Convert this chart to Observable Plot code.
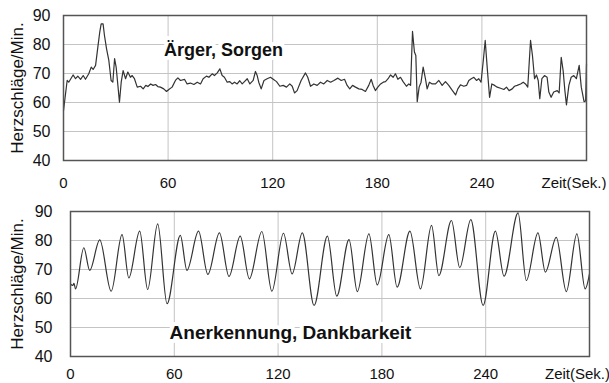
<!DOCTYPE html>
<html>
<head>
<meta charset="utf-8">
<script src="https://cdn.jsdelivr.net/npm/d3@7"></script>
<script src="https://cdn.jsdelivr.net/npm/@observablehq/plot@0.6"></script>
<style>
  html, body { margin: 0; padding: 0; background: white; }
  #chart svg { display: block; }
</style>
</head>
<body>
<div id="chart"></div>
<script>
// Panel titles and axis texts
const titleTop = "Ärger, Sorgen";
const titleBottom = "Anerkennung, Dankbarkeit";
const yLabel = "Herzschläge/Min.";
const xEndLabel = "Zeit(Sek.)";
const xTicks = [0, 60, 120, 180, 240];
const yTicks = [40, 50, 60, 70, 80, 90];

// Top panel: heart rate (anger, worries)
const topT = [0,2.1,3,4.2,5.5,6.9,8.2,9.8,11.3,12.6,14.5,15.9,17,18.4,19.7,20.8,21.6,22.7,23.5,24.7,26,27.3,28.3,29.3,30.2,31.2,32.1,33.1,34.2,35.6,36.9,38.4,39.4,40.7,42.3,44.2,45.7,47.2,48.4,50,51.4,52.8,54.1,55.6,57.5,59.1,60.4,62.3,64.2,65.6,67.1,69.4,70.9,72.8,74.8,76.7,78.6,80.1,82,83.4,85.3,86.6,88.2,89.7,91,92.3,93.9,95.4,96.7,98.1,99.6,101.1,102.5,103.8,105.4,106.9,108.8,110.1,111.1,112,113.4,115,116.8,118.7,120.3,122.2,124.1,126,127.9,129.8,131.2,132.5,134,136.3,138.8,140.1,141.7,143.6,145.5,147.4,149.3,151.3,153.2,155.1,157.4,159.3,161.2,162.7,164.2,165.8,167.5,169.4,171.3,173.2,175.1,176.5,177.6,178.9,180.3,181.9,183.4,184.7,186.2,187.6,189.1,190.4,191.8,193.3,194.8,196.7,198.1,199.1,200.2,201.3,202.1,202.9,204,205.1,206.3,207.6,208.6,209.9,211.5,213.4,215.3,217.2,219.1,221,222.6,224.9,226.2,227.7,229.6,231.2,232.5,233.9,235.4,236.9,238.2,239.5,240.7,241.9,243.1,244.4,245.7,247.3,248.8,250.7,252.6,254.1,255.6,257.4,258.7,260.2,262.2,263.7,265,266.3,267.9,269,270.2,271.3,272.3,273.2,274.4,275.9,277.4,278.4,279.7,281.2,283.2,284.3,285.5,286.6,287.6,288.5,289.9,291.2,292.7,294.2,295.8,297,298.6,299.5,300];
const topV = [57.2,67.6,67,68.2,69.5,68.2,69.1,68,69.3,68,69.9,72.2,71.4,72.8,79.1,84.3,87.1,87.1,83.1,78.5,74.5,67.6,67,75.1,72.2,65.9,60.1,67,71,68.2,70.5,68.7,69.3,68.2,65.3,65.6,64.7,65.9,65.5,66.4,65.9,66.2,65.5,65.3,64.7,63.8,64.5,65.3,67.6,68.5,67.6,68,66.4,66.7,66.2,67,66.4,68.2,69.1,68.7,69.9,69.3,70.2,71.6,69.3,68.7,67,67.2,66.4,67,66.4,67.5,66.4,67.2,68.2,66.4,67.6,70.7,69.3,67,64.7,67.6,68.2,68.7,68,67.2,65.6,65.9,65.3,66.4,65.6,63.3,64.1,67.6,70.2,68.7,65.6,66.4,65.9,67,66.4,67.6,67,67.6,68.4,67.6,68,65.9,64.7,65.9,65.3,64.7,64.5,63.8,65.9,68,65.9,64.1,65.3,66.4,67,67.2,68.2,69.5,68.7,69.9,68,68.7,67.2,65.6,66.4,65.9,84.5,77.4,76.2,60.3,65.3,67,72.2,68.2,64.7,67,66.4,66.4,67.6,65.9,67.2,65.9,64.5,62.6,64.7,66.1,65.6,65.9,67.6,68.2,68.7,67.6,68.2,67,73.9,81.4,71.6,61.8,66.4,65.9,65.3,64.9,64.5,65.3,64.1,64.7,65.6,65.9,66.4,67,66.4,65.3,81.4,76.2,68.2,69.5,67.6,61.3,68.2,69.3,68.7,63.6,61.8,63.6,64.1,63.3,75.6,71,64.1,59.2,65.9,68.7,69.3,68.2,72.8,65.3,60.3,60.5,73.4];

// Bottom panel: heart rate (appreciation, gratitude) - turning points
const botT = [0,1.3,2,2.9,7.7,11.1,16.9,23.5,29.8,33.7,40,44.6,50.4,55.8,63.5,67.3,74,79.4,86.1,91.6,98.1,103.4,110.6,116.4,123.1,128.1,134,140.8,148.5,153.9,161,165.8,172.5,177.3,184,188.8,196.2,202.3,208.7,212.9,220.2,225,231.4,238.5,245.6,250.6,258.7,263.5,270.2,274.5,280.8,286.6,292.7,297.5,300];
const botV = [65,64.5,65.2,63.3,77.5,69.7,80.2,62.5,82,67.1,83.2,63.1,85.7,58.2,81.8,69.7,83.2,68.3,82.6,67.6,81.5,66.8,83.1,62.5,82.5,68.5,82.6,57.6,81.5,60.8,80.3,62.4,82.3,64.7,82,63.9,83.2,63.3,85.2,67.9,86.9,70.6,87.2,57.6,83.2,67.7,89.5,66.2,82.6,69.1,81.1,62.4,82.3,63.3,68.5];

const topData = topT.map((t, i) => ({t, v: topV[i]}));
const botData = botT.map((t, i) => ({t, v: botV[i]}));

const font = "'Liberation Sans', Arial, sans-serif";

function panel({data, curve, title, height, mt, mb, ml, mr, yPad, xPad, labelOffset, labelDy, titleDx, titleDy, titleSize, zeitDx}) {
  return Plot.plot({
    width: 609,
    height,
    marginTop: mt,
    marginBottom: mb,
    marginLeft: ml,
    marginRight: mr,
    style: {fontFamily: font, background: "white", color: "#111"},
    x: {domain: [0, 300]},
    y: {domain: [40, 90]},
    marks: [
      Plot.gridX({ticks: [60, 120, 180, 240], stroke: "#c4c4c4", strokeOpacity: 1, strokeWidth: 1}),
      Plot.gridY({ticks: [50, 60, 70, 80], stroke: "#c4c4c4", strokeOpacity: 1, strokeWidth: 1}),
      Plot.axisY({ticks: yTicks, tickSize: 0, tickPadding: yPad, fontSize: 16, label: null, fill: "#111"}),
      Plot.axisY({ticks: [], tickSize: 0, label: yLabel, labelAnchor: "center", labelArrow: "none", labelOffset, fontSize: 17, fill: "#111", dy: labelDy}),
      Plot.axisX({ticks: xTicks, tickSize: 0, tickPadding: xPad, fontSize: 15, label: null, fill: "#111"}),
      Plot.axisX({ticks: [300], tickFormat: () => xEndLabel, tickSize: 0, tickPadding: xPad, fontSize: 15, label: null, dx: zeitDx, fill: "#111"}),
      Plot.text([title], {text: d => d, frameAnchor: "top-left", dx: titleDx, dy: titleDy, textAnchor: "middle", fontWeight: "bold", fontSize: titleSize, fill: "#111", stroke: "white", strokeWidth: 8}),
      Plot.line(data, {x: "t", y: "v", curve, stroke: "#333", strokeWidth: 1.2}),
      Plot.frame({stroke: "#555", strokeWidth: 1.5})
    ]
  });
}

const topPanel = panel({data: topData, curve: "linear", title: titleTop, height: 190, mt: 15, mb: 30, ml: 63, mr: 23,
  yPad: 13, xPad: 16.5, labelOffset: 53, labelDy: -5, titleDx: 160, titleDy: 28, titleSize: 18, zeitDx: -12.5});
const bottomPanel = panel({data: botData, curve: "monotone-x", title: titleBottom, height: 193, mt: 21, mb: 27, ml: 70, mr: 20,
  yPad: 18, xPad: 12, labelOffset: 60, labelDy: -3, titleDx: 220, titleDy: 114, titleSize: 19, zeitDx: -12});

document.getElementById("chart").append(topPanel, bottomPanel);
</script>
</body>
</html>
